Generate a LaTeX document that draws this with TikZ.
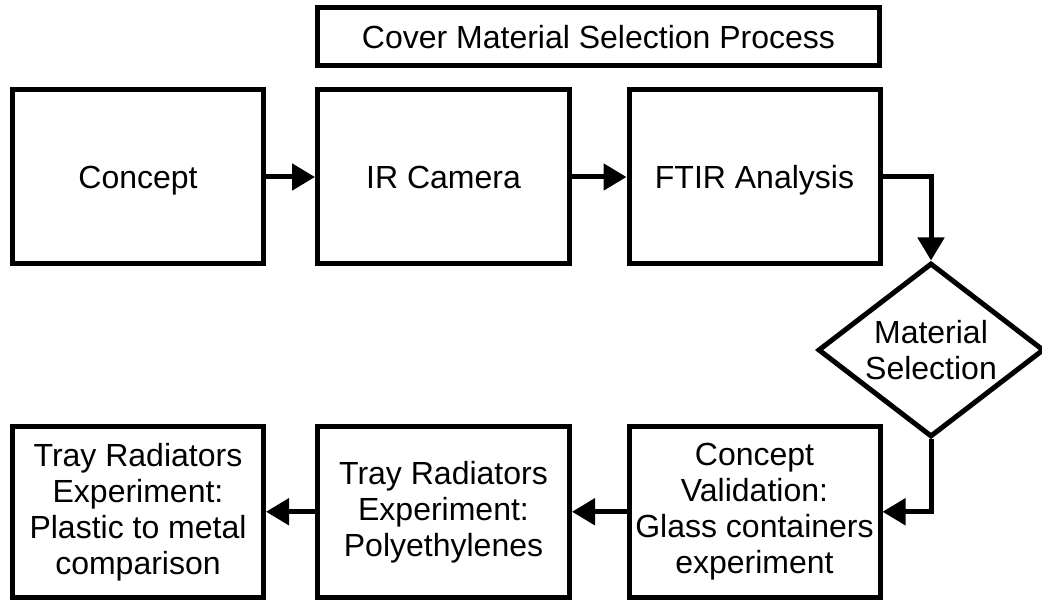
\documentclass[tikz,border=0pt]{standalone}
\usepackage{fontspec}
\setmainfont{Liberation Sans}
\usetikzlibrary{shapes.geometric,arrows.meta}
\tikzset{
  box/.style={draw=black, line width=5pt, inner sep=0pt, align=center,
    font=\fontsize{32}{36}\selectfont},
  oneline/.style={text height=23pt, text depth=0pt},
  decision/.style={draw=black, diamond, line width=5pt, inner sep=0pt, align=center,
    minimum width=226pt, minimum height=174pt, aspect=1.3,
    font=\fontsize{32}{36}\selectfont},
  flow/.style={line width=5pt, -{Triangle[length=23pt,width=26pt]}},
}
\begin{document}
\begin{tikzpicture}[x=1pt,y=-1pt]
\useasboundingbox (0,0) rectangle (1042,601);
\fill[white] (0,0) rectangle (1042,601);
\node[box, oneline, minimum width=562pt, minimum height=57.5pt] (title) at (598.5,36.75) {Cover Material Selection Process};
\node[box, oneline, minimum width=251pt, minimum height=174pt] (concept) at (138,177) {Concept};
\node[box, oneline, minimum width=252pt, minimum height=174pt] (ir) at (443.5,177) {IR Camera};
\node[box, oneline, minimum width=251pt, minimum height=174pt] (ftir) at (754.5,177) {FTIR Analysis};
\node[decision] (sel) at (931,350) {Material\\Selection};
\node[box, minimum width=251pt, minimum height=170.5pt] (valid) at (754.5,511.75) {Concept\\Validation:\\Glass containers\\experiment};
\node[box, minimum width=252pt, minimum height=170.5pt] (poly) at (443.5,511.75) {Tray Radiators\\Experiment:\\Polyethylenes};
\node[box, minimum width=251pt, minimum height=170.5pt] (metal) at (138,511.75) {Tray Radiators\\Experiment:\\Plastic to metal\\comparison};
\draw[flow] (concept) -- (ir);
\draw[flow] (ir) -- (ftir);
\draw[flow] (ftir.east) -| (sel.north);
\draw[flow] (sel.south) |- (valid.east);
\draw[flow] (valid) -- (poly);
\draw[flow] (poly) -- (metal);
\end{tikzpicture}
\end{document}
